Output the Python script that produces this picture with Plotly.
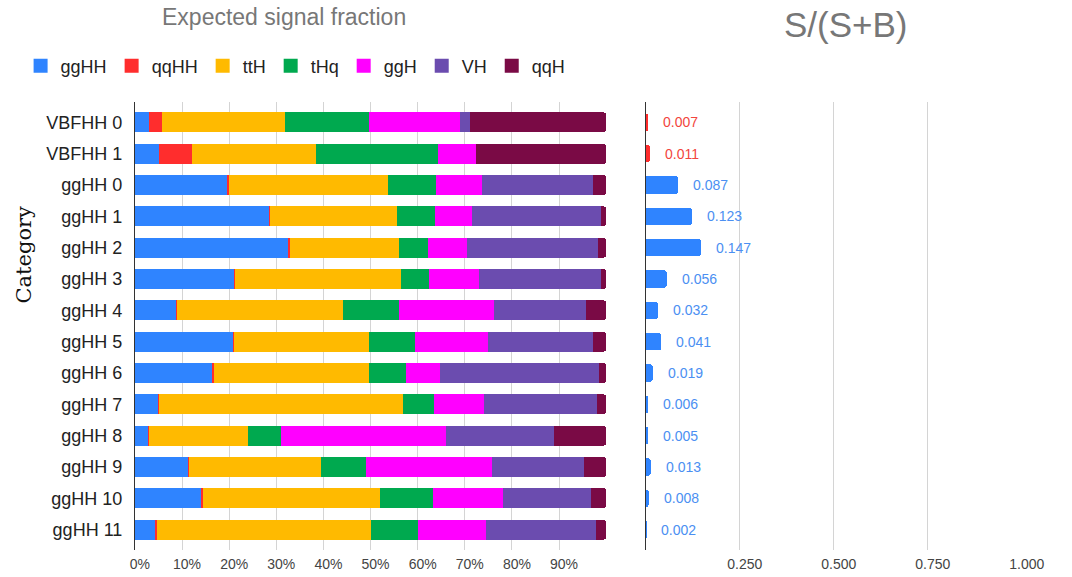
import plotly.graph_objects as go

W, H = 1072, 577

categories = ["VBFHH 0", "VBFHH 1", "ggHH 0", "ggHH 1", "ggHH 2", "ggHH 3", "ggHH 4",
              "ggHH 5", "ggHH 6", "ggHH 7", "ggHH 8", "ggHH 9", "ggHH 10", "ggHH 11"]

# Expected signal fraction per process (percent of each category)
frac_ggHH = [2.9, 5.2, 19.7, 28.5, 32.6, 21.1, 8.7, 20.8, 16.5, 5.0, 2.9, 11.3, 14.2, 4.4]
frac_qqHH = [2.9, 6.9, 0.2, 0.2, 0.2, 0.2, 0.2, 0.2, 0.2, 0.2, 0.1, 0.2, 0.2, 0.2]
frac_ttH = [26.0, 26.3, 33.9, 27.0, 23.3, 35.2, 35.2, 28.7, 33.0, 51.6, 20.9, 27.9, 37.5, 45.5]
frac_tHq = [17.9, 26.0, 10.0, 7.9, 6.1, 5.9, 11.9, 9.8, 7.8, 6.6, 7.0, 9.7, 11.3, 10.0]
frac_ggH = [19.2, 7.9, 9.8, 7.9, 8.3, 10.6, 20.2, 15.4, 7.3, 10.6, 35.2, 26.6, 14.9, 14.4]
frac_VH = [2.1, 0.0, 23.7, 27.5, 27.7, 25.8, 19.5, 22.4, 33.7, 24.0, 22.9, 19.6, 18.7, 23.3]
frac_qqH = [29.0, 27.7, 2.7, 1.0, 1.8, 1.2, 4.3, 2.7, 1.5, 2.0, 11.0, 4.7, 3.2, 2.2]

# S/(S+B) per category
s_over_sb = [0.007, 0.011, 0.087, 0.123, 0.147, 0.056, 0.032, 0.041, 0.019, 0.006,
             0.005, 0.013, 0.008, 0.002]

# Axis ticks
frac_ticks = [0, 10, 20, 30, 40, 50, 60, 70, 80, 90]
frac_tick_labels = ["0%", "10%", "20%", "30%", "40%", "50%", "60%", "70%", "80%", "90%"]
ssb_ticks = [0.25, 0.5, 0.75, 1.0]
ssb_tick_labels = ["0.250", "0.500", "0.750", "1.000"]

processes = [
    ("ggHH", frac_ggHH, "#2f84ff"),
    ("qqHH", frac_qqHH, "#ff2d2d"),
    ("ttH", frac_ttH, "#ffba00"),
    ("tHq", frac_tHq, "#00a94f"),
    ("ggH", frac_ggH, "#ff00ff"),
    ("VH", frac_VH, "#6b4caf"),
    ("qqH", frac_qqH, "#7a0a45"),
]

FONT = "Liberation Sans, Arial, sans-serif"
GRID = "#d4d4d4"
AXIS = "#333333"


def px_x(p):
    return p / W


def px_y(p):
    return 1 - p / H


fig = go.Figure()

for name, vals, color in processes:
    fig.add_trace(go.Bar(
        y=categories, x=vals, name=name, orientation="h", legendgroup=name,
        showlegend=False, marker=dict(color=color, line=dict(width=0)),
        xaxis="x", yaxis="y", hoverinfo="x+name",
    ))

# Legend keys drawn as square swatches, grouped with their bar series
for name, vals, color in processes:
    fig.add_trace(go.Scatter(
        x=[None], y=[None], mode="markers", name=name, legendgroup=name,
        marker=dict(symbol="square", size=14, color=color, line=dict(width=0)),
        xaxis="x", yaxis="y", hoverinfo="skip",
    ))

# S/(S+B) bars: VBF categories in red, ggHH categories in blue
bar_cols = ["#ff2d2d" if c.startswith("VBF") else "#2f84ff" for c in categories]
lab_cols = ["#f2453d" if c.startswith("VBF") else "#4b8ff2" for c in categories]
fig.add_trace(go.Bar(
    y=categories, x=s_over_sb, orientation="h", showlegend=False,
    marker=dict(color=bar_cols, line=dict(width=0)), width=0.56,
    xaxis="x2", yaxis="y2",
))

annotations = []
for cat, v, col in zip(categories, s_over_sb, lab_cols):
    annotations.append(dict(
        x=v, y=cat, xref="x2", yref="y2", text=f"{v:.3f}", showarrow=False,
        xanchor="left", xshift=13, font=dict(family=FONT, size=14, color=col),
    ))

annotations += [
    dict(x=px_x(286), y=px_y(17), xref="paper", yref="paper", text="Expected signal fraction",
         showarrow=False, xanchor="center", yanchor="middle",
         font=dict(family=FONT, size=23, color="#777777")),
    dict(x=px_x(863), y=px_y(25), xref="paper", yref="paper", text="S/(S+B)",
         showarrow=False, xanchor="center", yanchor="middle",
         font=dict(family=FONT, size=35, color="#777777")),
    dict(x=px_x(20), y=px_y(254), xref="paper", yref="paper", text="Category",
         showarrow=False, textangle=-90, xanchor="center", yanchor="middle",
         font=dict(family="DejaVu Serif, serif", size=21, color="#111111")),
]

y_range = [13.65, -0.65]
y_dom = [px_y(550), px_y(102)]

fig.update_layout(
    width=W, height=H, autosize=False,
    margin=dict(l=0, r=0, t=0, b=0),
    paper_bgcolor="white", plot_bgcolor="white",
    barmode="stack", bargap=0.36, barcornerradius=3,
    font=dict(family=FONT, color="#222222"),
    showlegend=True,
    legend=dict(
        orientation="h", x=px_x(16), y=px_y(66), xanchor="left", yanchor="middle",
        font=dict(family=FONT, size=18, color="#222222"),
        itemwidth=30, itemsizing="trace", traceorder="normal",
        bgcolor="rgba(0,0,0,0)",
    ),
    xaxis=dict(
        domain=[px_x(133.3), px_x(616.7)], range=[0, 100], anchor="y",
        tickmode="array", tickvals=frac_ticks, ticktext=frac_tick_labels,
        showgrid=True, gridcolor=GRID, gridwidth=1, zeroline=False,
        showline=False, ticks="", ticklabelshift=5, ticklabelstandoff=4,
        tickfont=dict(family=FONT, size=14, color="#444444"), fixedrange=True,
    ),
    yaxis=dict(
        domain=y_dom, type="category", range=y_range, anchor="x",
        showline=True, linecolor=AXIS, linewidth=1, showgrid=False,
        ticks="", ticklabelstandoff=8,
        tickfont=dict(family=FONT, size=18, color="#222222"), fixedrange=True,
    ),
    xaxis2=dict(
        domain=[px_x(657.3), px_x(1043.5)], range=[0, 1.001], anchor="y2",
        tickmode="array", tickvals=ssb_ticks, ticktext=ssb_tick_labels,
        showgrid=True, gridcolor=GRID, gridwidth=1, zeroline=False,
        showline=False, ticks="", ticklabelshift=5, ticklabelstandoff=4,
        tickfont=dict(family=FONT, size=14, color="#444444"), fixedrange=True,
    ),
    yaxis2=dict(
        domain=y_dom, type="category", range=y_range, anchor="x2",
        showline=True, linecolor=AXIS, linewidth=1, showgrid=False,
        showticklabels=False, ticks="", fixedrange=True,
    ),
    annotations=annotations,
)

fig.write_html("out.html")
